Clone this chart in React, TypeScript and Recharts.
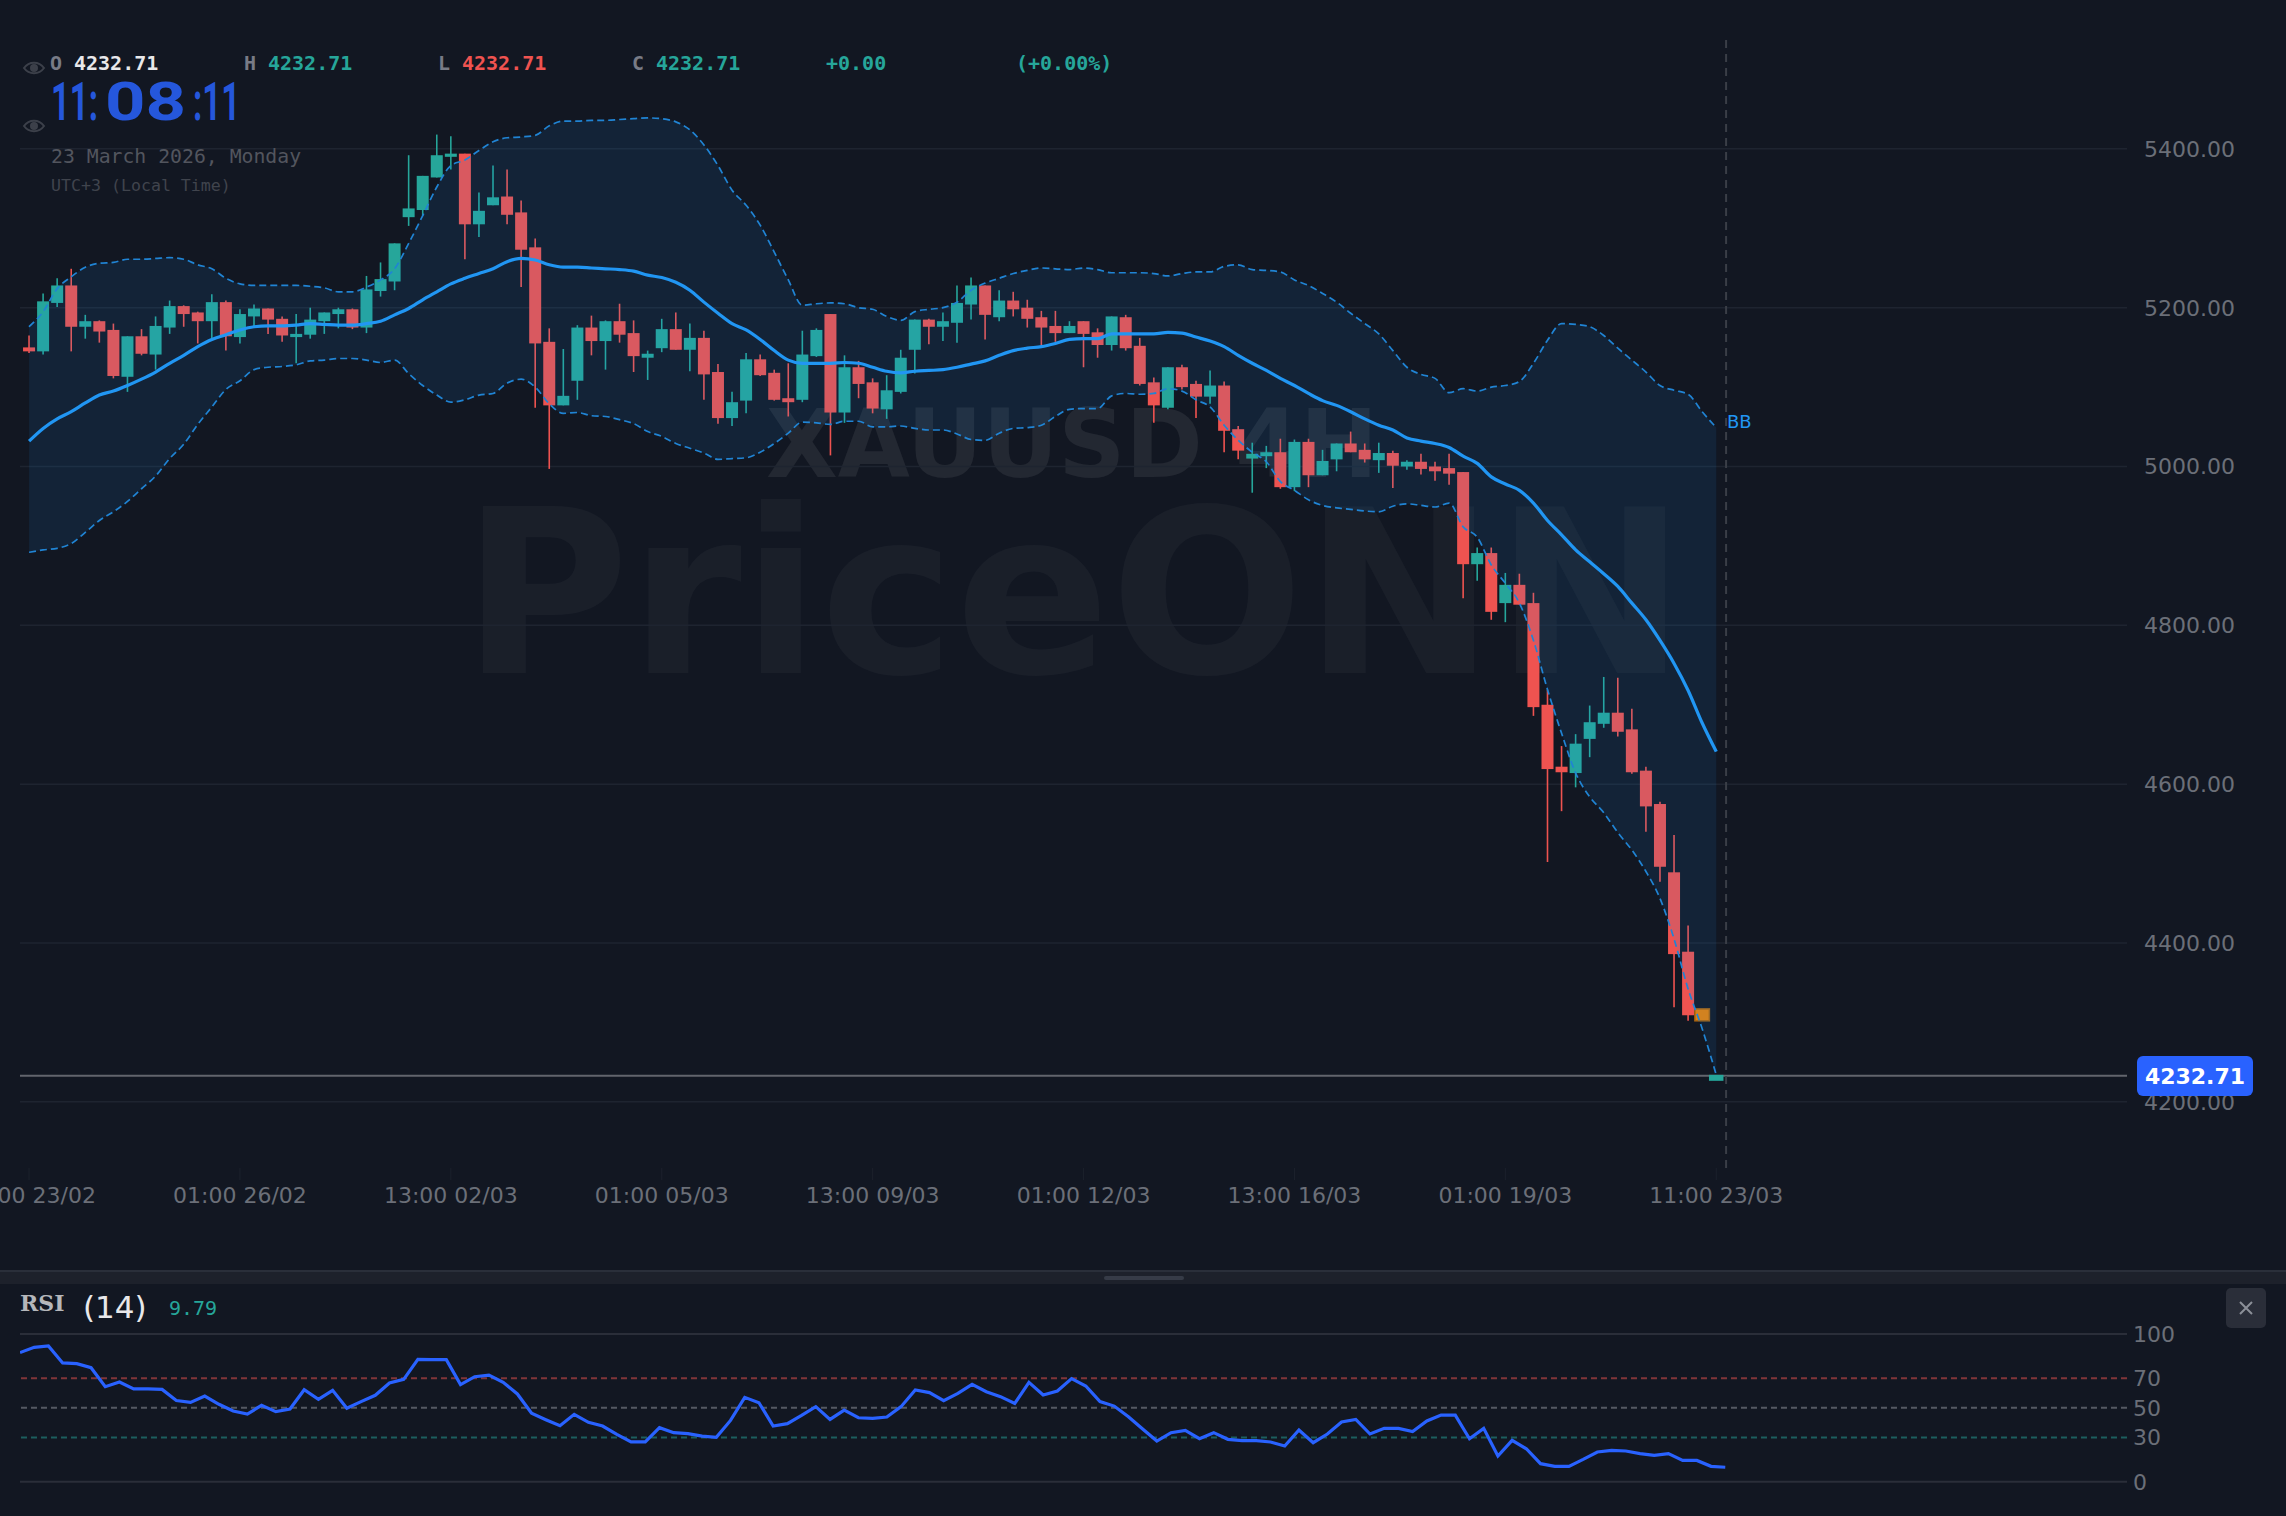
import { Area, Bar, CartesianGrid, ComposedChart, Line, ReferenceLine, XAxis, YAxis } from 'recharts'

const BG = '#121722'
const TEAL = '#26a69a'
const RED = '#ef5350'
const ORANGE = '#e68008'
const BLUE = '#2196f3'
const MONO = '"DejaVu Sans Mono", monospace'
const SANS = '"DejaVu Sans", sans-serif'

const opens = [
  5150, 5145, 5206, 5228, 5176, 5183, 5172, 5113, 5164, 5141, 5175, 5202, 5194, 5183, 5207, 5163, 5189, 5199, 5186, 5163,
  5166, 5183, 5192, 5198, 5175, 5221, 5233, 5314, 5323, 5364, 5390, 5394, 5305, 5329, 5340, 5320, 5276, 5157, 5077, 5108,
  5175, 5158, 5183, 5168, 5137, 5149, 5173, 5147, 5162, 5119, 5061, 5083, 5135, 5118, 5086, 5084, 5139, 5192, 5068, 5125,
  5106, 5072, 5094, 5147, 5185, 5176, 5181, 5204, 5228, 5188, 5209, 5200, 5188, 5177, 5168, 5183, 5169, 5153, 5188, 5152,
  5106, 5074, 5125, 5104, 5088, 5102, 5047, 5010, 5013, 5018, 4974, 5031, 4989, 5009, 5029, 5021, 5008, 5017, 5000, 5006,
  5000, 4998, 4993, 4877, 4891, 4828, 4851, 4828, 4700, 4622, 4614, 4657, 4676, 4690, 4669, 4617, 4575, 4489, 4389, 4317,
  4232.71,
]
const highs = [
  5165, 5218, 5237, 5249, 5191, 5184, 5180, 5164, 5173, 5189, 5209, 5203, 5195, 5217, 5209, 5198, 5204, 5199, 5189, 5192,
  5200, 5194, 5200, 5199, 5240, 5257, 5281, 5392, 5366, 5418, 5416, 5394, 5345, 5379, 5374, 5335, 5287, 5174, 5148, 5178,
  5190, 5184, 5205, 5184, 5146, 5186, 5194, 5180, 5171, 5129, 5094, 5143, 5141, 5122, 5130, 5171, 5174, 5192, 5140, 5133,
  5111, 5115, 5147, 5185, 5186, 5194, 5228, 5238, 5228, 5222, 5220, 5210, 5196, 5196, 5183, 5183, 5174, 5189, 5191, 5162,
  5112, 5125, 5128, 5108, 5121, 5107, 5051, 5030, 5026, 5035, 5034, 5035, 5021, 5029, 5044, 5029, 5030, 5020, 5008, 5016,
  5006, 5016, 4993, 4898, 4898, 4866, 4865, 4841, 4719, 4648, 4663, 4699, 4735, 4734, 4695, 4622, 4578, 4536, 4422, 4317,
  4232.71,
]
const lows = [
  5143, 5141, 5201, 5145, 5161, 5156, 5111, 5094, 5140, 5122, 5167, 5176, 5155, 5159, 5146, 5155, 5176, 5167, 5157, 5130,
  5161, 5167, 5174, 5173, 5168, 5214, 5222, 5303, 5316, 5364, 5374, 5261, 5289, 5329, 5305, 5226, 5074, 4997, 5077, 5084,
  5140, 5122, 5156, 5119, 5109, 5144, 5147, 5120, 5084, 5054, 5051, 5067, 5114, 5083, 5063, 5081, 5138, 5014, 5055, 5086,
  5067, 5060, 5092, 5117, 5154, 5158, 5156, 5185, 5160, 5183, 5189, 5175, 5153, 5157, 5168, 5125, 5137, 5146, 5146, 5102,
  5055, 5072, 5097, 5061, 5079, 5018, 5009, 4967, 4998, 4972, 4969, 4974, 4989, 4994, 5018, 5005, 4992, 4973, 4996, 4990,
  4982, 4977, 4834, 4856, 4807, 4804, 4826, 4686, 4502, 4566, 4596, 4634, 4671, 4660, 4613, 4540, 4477, 4319, 4302, 4302,
  4232.71,
]
const closes = [
  5145, 5208, 5228, 5176, 5183, 5170, 5114, 5164, 5142, 5177, 5202, 5192, 5183, 5207, 5164, 5192, 5199, 5185, 5165, 5167,
  5185, 5194, 5198, 5175, 5223, 5236, 5281, 5325, 5366, 5392, 5394, 5305, 5322, 5339, 5317, 5273, 5155, 5077, 5089, 5175,
  5158, 5183, 5166, 5139, 5142, 5173, 5147, 5162, 5116, 5061, 5081, 5135, 5115, 5084, 5081, 5141, 5172, 5068, 5125, 5104,
  5073, 5096, 5137, 5185, 5176, 5183, 5206, 5228, 5191, 5209, 5198, 5186, 5175, 5168, 5177, 5167, 5153, 5189, 5149, 5104,
  5077, 5125, 5100, 5088, 5102, 5045, 5020, 5016, 5018, 4974, 5031, 4989, 5007, 5029, 5018, 5009, 5017, 5001, 5006, 4997,
  4994, 4991, 4877, 4891, 4817, 4851, 4826, 4697, 4619, 4615, 4651, 4678, 4690, 4666, 4615, 4572, 4496, 4386, 4309, 4302,
  4232.71,
]
const upperBand = [
  5176, 5195, 5224, 5239, 5251, 5256, 5257, 5261, 5261, 5262, 5263, 5261, 5254, 5249, 5237, 5230, 5228, 5228, 5228, 5228,
  5227, 5225, 5220, 5220, 5226, 5235, 5249, 5281, 5316, 5352, 5379, 5386, 5398, 5409, 5414, 5415, 5417, 5429, 5435, 5435,
  5436, 5436, 5437, 5438, 5439, 5438, 5434, 5424, 5405, 5379, 5348, 5329, 5304, 5270, 5235, 5203, 5205, 5206, 5205, 5200,
  5198, 5189, 5184, 5195, 5198, 5200, 5207, 5222, 5231, 5237, 5243, 5247, 5250, 5249, 5248, 5250, 5248, 5244, 5244, 5244,
  5243, 5240, 5243, 5245, 5245, 5252, 5254, 5248, 5247, 5245, 5235, 5228, 5218, 5207, 5193, 5180, 5167, 5146, 5125, 5116,
  5111, 5093, 5098, 5095, 5100, 5102, 5107, 5130, 5159, 5180, 5179, 5176, 5165, 5149, 5134, 5119, 5102, 5096, 5091, 5069,
  5049,
]
const middleBand = [
  5032, 5048, 5060, 5069, 5080, 5090, 5095, 5102, 5110, 5119, 5130, 5140, 5151, 5160, 5166, 5172, 5176, 5177, 5177, 5178,
  5180, 5179, 5178, 5178, 5180, 5183, 5191, 5199, 5210, 5220, 5230, 5237, 5243, 5249, 5258, 5262, 5260, 5254, 5251, 5251,
  5250, 5249, 5248, 5246, 5241, 5238, 5232, 5222, 5207, 5193, 5180, 5172, 5160, 5146, 5134, 5130, 5130, 5130, 5131, 5130,
  5125, 5120, 5118, 5120, 5121, 5122, 5125, 5129, 5133, 5140, 5146, 5149, 5151, 5155, 5160, 5161, 5161, 5167, 5167, 5167,
  5167, 5169, 5168, 5163, 5158, 5151, 5140, 5130, 5121, 5111, 5102, 5092, 5083, 5077, 5069, 5060, 5052, 5046, 5036, 5032,
  5029, 5024, 5013, 5004, 4987, 4978, 4970, 4954, 4932, 4914, 4895, 4880, 4865, 4849, 4828, 4807, 4781, 4752, 4718, 4677,
  4641,
]
const lowerBand = [
  4892, 4895, 4897, 4903, 4917, 4932, 4943, 4956, 4972, 4988, 5010, 5028, 5053, 5075, 5097, 5108, 5122, 5125, 5126, 5128,
  5133, 5134, 5136, 5136, 5134, 5131, 5134, 5117, 5102, 5090, 5081, 5084, 5090, 5092, 5105, 5110, 5100, 5079, 5067, 5068,
  5064, 5063, 5059, 5054, 5044, 5038, 5029, 5023, 5017, 5009, 5010, 5011, 5018, 5029, 5042, 5056, 5055, 5053, 5057, 5057,
  5050, 5050, 5051, 5048, 5046, 5046, 5041, 5034, 5033, 5042, 5048, 5049, 5052, 5063, 5072, 5073, 5073, 5089, 5092, 5091,
  5092, 5098, 5095, 5084, 5075, 5052, 5033, 5018, 5006, 4981, 4970, 4958, 4951, 4948, 4946, 4944, 4943, 4950, 4953, 4951,
  4949, 4954, 4924, 4911, 4876, 4853, 4828, 4781, 4719, 4664, 4614, 4584, 4564, 4539, 4517, 4490, 4456, 4405, 4342, 4292,
  4234,
]
const rsiValues = [
  87.4, 91, 91.9, 80.4, 79.9, 77.2, 64.3, 67.5, 62.8, 62.8, 62.5, 55, 53.7, 58, 52.4, 47.9, 45.8, 51.7, 47.4, 49.2,
  62.3, 55.8, 61.9, 49.7, 54.2, 58.5, 66.8, 69.3, 82.8, 82.6, 82.6, 65.7, 71.1, 72.2, 67.3, 59.4, 46.3, 42, 37.9, 45.6,
  40.2, 37.7, 32, 27, 26.9, 36.6, 33.2, 32.5, 30.9, 30, 41.5, 57.1, 53.5, 37.7, 39.3, 44.9, 50.8, 42.2, 48.5, 43.3,
  42.9, 43.8, 50.8, 62.1, 60.3, 54.9, 59.8, 65.9, 60.9, 57.6, 53, 67.3, 58.7, 61.4, 69.8, 64.8, 54.2, 51.2, 44, 35.7,
  27.5, 33.2, 34.8, 29.1, 33.2, 28.7, 27.8, 27.8, 26.9, 24.2, 35, 26.4, 32.3, 40.4, 42.2, 32.3, 36.1, 36.1, 33.9, 41.1,
  45.1, 45.1, 29.1, 36.1, 17.4, 28, 22.3, 12.2, 10.4, 10.4, 15.1, 20.1, 21.2, 20.8, 19, 17.8, 19, 14.4, 14.4, 10.4,
  9.79,
]
const priceTicks = [4200, 4400, 4600, 4800, 5000, 5200, 5400]
const timeTicks = [0, 15, 30, 45, 60, 75, 90, 105, 120]
const timeLabels = [
  '13:00 23/02', '01:00 26/02', '13:00 02/03', '01:00 05/03', '13:00 09/03',
  '01:00 12/03', '13:00 16/03', '01:00 19/03', '11:00 23/03',
]
const rsiTicks = [0, 30, 50, 70, 100]
const LAST_PRICE = 4232.71
const FORMING_BAR = 119

const X_DOMAIN: [number, number] = [-0.645, 149.215]
const Y_DOMAIN: [number, number] = [4116.65, 5537.1]
// same plot box for all three stacked price layers (axis layer reserves the gutters itself)
const AXIS_MARGIN = { top: 40, right: 0, bottom: 34, left: 20 }
const PLOT_MARGIN = { top: 40, right: 159, bottom: 94, left: 20 }
const layerStyle = { position: 'absolute', left: 0, top: 0 } as const

const candles = opens.map((open, i) => ({
  i,
  open,
  high: highs[i],
  low: lows[i],
  close: closes[i],
  upper: upperBand[i],
  middle: middleBand[i],
  lower: lowerBand[i],
}))
const rsiRows = rsiValues.map((rsi, i) => ({ i, rsi }))

function Candle(props: any) {
  const { x, y, width, height, payload } = props
  const { open, high, low, close, i } = payload
  const range = high - low
  const perUnit = range > 0 ? height / range : 0
  const cx = x + width / 2
  const color = i === FORMING_BAR ? ORANGE : close >= open ? TEAL : RED
  const top = y + (high - Math.max(open, close)) * perUnit
  const bottom = y + (high - Math.min(open, close)) * perUnit

  if (i >= FORMING_BAR) {
    // the last two bars are drawn a bit wider than the others
    const h = Math.max(bottom - top, 6)
    const w = width + 2.5
    return (
      <rect
        x={cx - w / 2}
        y={range > 0 ? top : y - 1}
        width={w}
        height={h}
        fill={color}
        stroke={i === FORMING_BAR ? '#a96410' : 'none'}
        strokeWidth={1.5}
      />
    )
  }
  return (
    <g>
      <line x1={cx} x2={cx} y1={y} y2={y + height} stroke={color} strokeWidth={1.6} />
      <rect x={x} y={top} width={width} height={Math.max(bottom - top, 2)} fill={color} />
    </g>
  )
}

function Eye({ y }: { y: number }) {
  return (
    <g transform={`translate(23 ${y})`} fill="none" stroke="#3c404a" strokeWidth={2}>
      <path d="M1 7 C6 0 16 0 21 7 C16 14 6 14 1 7 Z" />
      <circle cx={11} cy={7} r={3} fill="#3c404a" />
    </g>
  )
}

function Label({ x, y, size = 20, color, children, family = MONO, weight }: any) {
  return (
    <text x={x} y={y} fontSize={size} fill={color} fontFamily={family} fontWeight={weight} dominantBaseline="central">
      {children}
    </text>
  )
}

export default function App() {
  return (
    <div style={{ position: 'absolute', left: 0, top: 0, width: 2286, height: 1516, background: BG, overflow: 'hidden' }}>
      {/* watermark sits under the chart */}
      <svg width={2286} height={1516} style={layerStyle}>
        <text x={766} y={477} fontSize={94} fontWeight={700} fontFamily={SANS} fill="rgba(255,255,255,0.075)" textLength={612} lengthAdjust="spacingAndGlyphs">
          XAUUSD 4H
        </text>
        <text x={462} y={673} fontSize={228} fontWeight={700} fontFamily={SANS} fill="rgba(255,255,255,0.035)" textLength={1224} lengthAdjust="spacingAndGlyphs">
          PriceONN
        </text>
      </svg>

      {/* axes, grid and last price line */}
      <div style={layerStyle}>
        <ComposedChart width={2286} height={1262} data={candles} margin={AXIS_MARGIN}>
          <CartesianGrid horizontal vertical={false} horizontalValues={priceTicks} stroke="#1e2430" strokeWidth={1.5} />
          <XAxis
            type="number"
            dataKey="i"
            domain={X_DOMAIN}
            allowDataOverflow
            ticks={timeTicks}
            interval={0}
            tickFormatter={(_v: number, idx: number) => timeLabels[idx]}
            axisLine={false}
            tickLine={{ stroke: '#1c212c' }}
            tickSize={12}
            height={60}
            tickMargin={7}
            tick={{ fontSize: 22, fill: '#6b6f78', fontFamily: SANS }}
          />
          <YAxis
            orientation="right"
            domain={Y_DOMAIN}
            allowDataOverflow
            ticks={priceTicks}
            interval={0}
            tickFormatter={(v: number) => v.toFixed(2)}
            axisLine={false}
            tickLine={false}
            width={159}
            tickMargin={11}
            tick={{ fontSize: 22, fill: '#6b6f78', fontFamily: SANS }}
          />
          <ReferenceLine y={LAST_PRICE} stroke="#62656d" strokeWidth={2} />
        </ComposedChart>
      </div>

      {/* candles */}
      <div style={layerStyle}>
        <ComposedChart width={2286} height={1262} data={candles} margin={PLOT_MARGIN}>
          <XAxis type="number" dataKey="i" domain={X_DOMAIN} allowDataOverflow hide />
          <YAxis domain={Y_DOMAIN} allowDataOverflow hide />
          <Bar dataKey={(d: any) => [d.low, d.high]} barSize={12} shape={Candle} isAnimationActive={false} />
        </ComposedChart>
      </div>

      {/* bollinger band goes over the candles, it tints them */}
      <div style={layerStyle}>
        <ComposedChart width={2286} height={1262} data={candles} margin={PLOT_MARGIN}>
          <XAxis type="number" dataKey="i" domain={X_DOMAIN} allowDataOverflow hide />
          <YAxis domain={Y_DOMAIN} allowDataOverflow hide />
          <Area
            dataKey={(d: any) => [d.lower, d.upper]}
            type="monotone"
            stroke="none"
            fill={BLUE}
            fillOpacity={0.1}
            dot={false}
            activeDot={false}
            isAnimationActive={false}
          />
          <Line dataKey="upper" type="monotone" stroke="#2084d4" strokeWidth={1.7} strokeDasharray="7 4" dot={false} activeDot={false} isAnimationActive={false} />
          <Line dataKey="lower" type="monotone" stroke="#2084d4" strokeWidth={1.7} strokeDasharray="7 4" dot={false} activeDot={false} isAnimationActive={false} />
          <Line dataKey="middle" type="monotone" stroke={BLUE} strokeWidth={3.2} dot={false} activeDot={false} isAnimationActive={false} />
          <ReferenceLine x={120.7} stroke="#3a3e47" strokeWidth={2} strokeDasharray="8 6" />
        </ComposedChart>
      </div>

      <div style={{ position: 'absolute', left: 0, top: 1284 }}>
        <ComposedChart width={2286} height={232} data={rsiRows} margin={{ top: 50, right: 0, bottom: 34.3, left: 20 }}>
          <XAxis type="number" dataKey="i" domain={[0, 148.27]} allowDataOverflow hide />
          <YAxis
            orientation="right"
            domain={[0, 100]}
            ticks={rsiTicks}
            interval={0}
            axisLine={false}
            tickLine={false}
            width={159}
            tickMargin={0}
            tick={{ fontSize: 22, fill: '#6b6f78', fontFamily: SANS }}
          />
          <ReferenceLine y={100} stroke="#2a2e39" strokeWidth={2} />
          <ReferenceLine y={0} stroke="#2a2e39" strokeWidth={2} />
          <ReferenceLine y={70} stroke="rgba(239,83,80,0.5)" strokeWidth={2} strokeDasharray="6 4" />
          <ReferenceLine y={50} stroke="rgba(130,133,144,0.6)" strokeWidth={2} strokeDasharray="6 4" />
          <ReferenceLine y={30} stroke="rgba(38,166,154,0.5)" strokeWidth={2} strokeDasharray="6 4" />
          <Line dataKey="rsi" type="linear" stroke="#2962ff" strokeWidth={3.2} dot={false} activeDot={false} isAnimationActive={false} />
        </ComposedChart>
      </div>

      {/* header texts, price tag and pane furniture */}
      <svg width={2286} height={1516} style={{ ...layerStyle, pointerEvents: 'none' }}>
        <Eye y={61} />
        <Eye y={119} />
        <Label x={50} y={63} color="#787b86" weight={700}>O</Label>
        <Label x={74} y={63} color="#e8e8ea" weight={700}>4232.71</Label>
        <Label x={244} y={63} color="#787b86" weight={700}>H</Label>
        <Label x={268} y={63} color={TEAL} weight={700}>4232.71</Label>
        <Label x={438} y={63} color="#787b86" weight={700}>L</Label>
        <Label x={462} y={63} color={RED} weight={700}>4232.71</Label>
        <Label x={632} y={63} color="#787b86" weight={700}>C</Label>
        <Label x={656} y={63} color={TEAL} weight={700}>4232.71</Label>
        <Label x={826} y={63} color={TEAL} weight={700}>+0.00</Label>
        <Label x={1016} y={63} color={TEAL} weight={700}>(+0.00%)</Label>
        <text y={120} fontSize={53} fontWeight={700} fontFamily="Roboto, sans-serif" fill="#2557dc">
          <tspan x={51} textLength={47} lengthAdjust="spacingAndGlyphs">11:</tspan>
          <tspan x={105} textLength={81} lengthAdjust="spacingAndGlyphs">08</tspan>
          <tspan x={193} textLength={47} lengthAdjust="spacingAndGlyphs">:11</tspan>
        </text>
        <Label x={51} y={156} size={19.8} color="#52555e">23 March 2026, Monday</Label>
        <Label x={51} y={185} size={16.6} color="#40444d">UTC+3 (Local Time)</Label>
        <Label x={1727} y={421} size={18} color={BLUE} family={SANS}>BB</Label>

        <rect x={2137} y={1056} width={116} height={40} rx={6} fill="#2962ff" />
        <text x={2195} y={1076} fontSize={22} fontWeight={700} fontFamily={SANS} fill="#ffffff" textAnchor="middle" dominantBaseline="central">
          4232.71
        </text>

        <rect x={0} y={1270} width={2286} height={2} fill="#2a2f3a" />
        <rect x={0} y={1272} width={2286} height={12} fill="#1d212b" />
        <rect x={1104} y={1276} width={80} height={4} rx={2} fill="#363b47" />
        <rect x={2226} y={1288} width={40} height={40} rx={5} fill="#2a2e39" />
        <path d="M2240 1302 L2252 1314 M2252 1302 L2240 1314" stroke="#8b8f98" strokeWidth={2} />

        <Label x={20} y={1303} size={22} color="#b5b7bb" family='"DejaVu Serif", serif' weight={700}>RSI</Label>
        <Label x={83} y={1307} size={31} color="#e8e8ea" family={SANS}>(14)</Label>
        <Label x={169} y={1308} color={TEAL}>9.79</Label>
      </svg>
    </div>
  )
}
